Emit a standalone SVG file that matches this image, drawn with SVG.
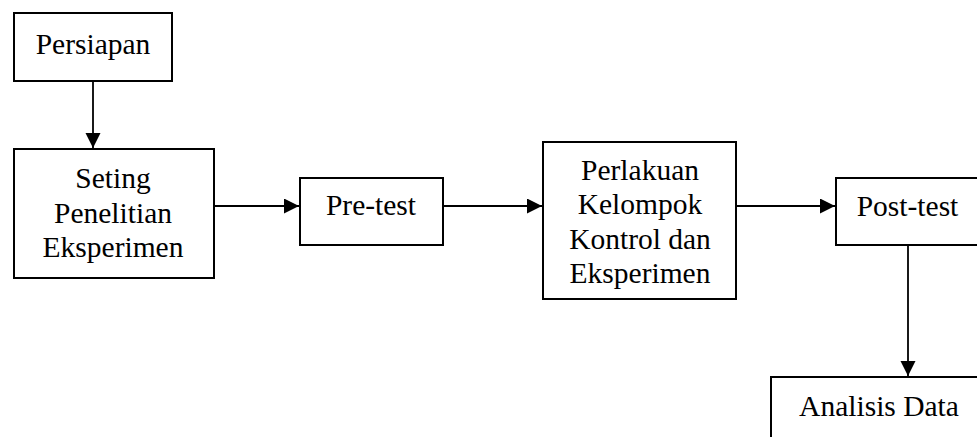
<svg xmlns="http://www.w3.org/2000/svg" width="977" height="437" viewBox="0 0 977 437">
<defs>
<style>
.box{fill:#fff;stroke:#000;stroke-width:2}
.lbl{font-family:"Liberation Serif","Times New Roman",serif;font-size:29.5px;fill:#000;text-anchor:middle}
.conn{stroke:#000;stroke-width:1.8;fill:none}
</style>
<marker id="arr" markerUnits="userSpaceOnUse" markerWidth="16" markerHeight="16" refX="15" refY="7.5" orient="auto">
<path d="M0,0 L15,7.5 L0,15 Z" fill="#000"/>
</marker>
</defs>
<rect width="977" height="437" fill="#fff"/>
<g id="connectors">
<line class="conn" x1="93" y1="81" x2="93" y2="148" marker-end="url(#arr)"/>
<line class="conn" x1="214" y1="206" x2="299" y2="206" marker-end="url(#arr)"/>
<line class="conn" x1="443" y1="206" x2="542" y2="206" marker-end="url(#arr)"/>
<line class="conn" x1="736" y1="206" x2="835" y2="206" marker-end="url(#arr)"/>
<line class="conn" x1="908" y1="245" x2="908" y2="376" marker-end="url(#arr)"/>
</g>
<g id="persiapan">
<rect class="box" x="14" y="13" width="158" height="68"/>
<text class="lbl" x="93" y="54">Persiapan</text>
</g>
<g id="seting">
<rect class="box" x="14" y="149" width="200" height="129"/>
<text class="lbl" x="113" y="188">Seting</text>
<text class="lbl" x="113" y="222.5">Penelitian</text>
<text class="lbl" x="113" y="257">Eksperimen</text>
</g>
<g id="pretest">
<rect class="box" x="300" y="178" width="143" height="67"/>
<text class="lbl" x="371" y="215">Pre-test</text>
</g>
<g id="perlakuan">
<rect class="box" x="543" y="142" width="193" height="157"/>
<text class="lbl" x="640" y="180">Perlakuan</text>
<text class="lbl" x="640" y="214">Kelompok</text>
<text class="lbl" x="640" y="248.5">Kontrol dan</text>
<text class="lbl" x="640" y="283">Eksperimen</text>
</g>
<g id="posttest">
<rect class="box" x="836" y="178" width="143" height="67"/>
<text class="lbl" x="907.5" y="216">Post-test</text>
</g>
<g id="analisis">
<rect class="box" x="771" y="377" width="216" height="80"/>
<text class="lbl" x="879" y="416">Analisis Data</text>
</g>
</svg>
